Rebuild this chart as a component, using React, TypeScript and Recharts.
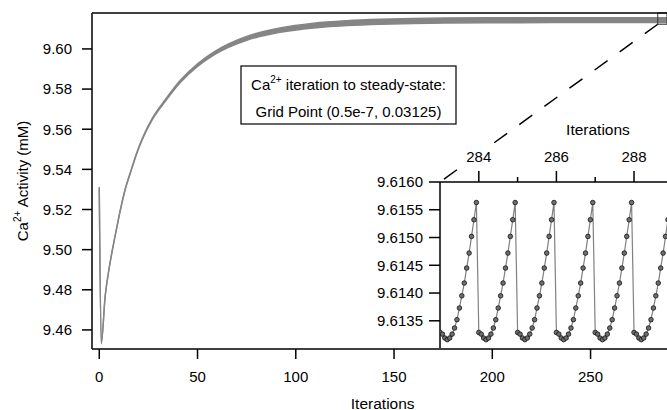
import React from 'react';
import {
  ComposedChart,
  LineChart,
  Line,
  Area,
  XAxis,
  YAxis,
  ReferenceLine,
  ReferenceArea,
} from 'recharts';

// ---- main panel data ----
const mainIterations = [0, 1, 3, 5, 8, 10, 13, 16, 19, 22, 27, 34, 41, 50, 58, 66, 75, 92, 109, 126, 143, 160, 177, 200, 230, 260, 289];
const mainLow = [9.5308, 9.45305, 9.47665, 9.49035, 9.50635, 9.51615, 9.5291, 9.53855, 9.54755, 9.555, 9.56475, 9.57435, 9.58295, 9.59125, 9.59675, 9.60085, 9.60425, 9.60825, 9.61045, 9.6116, 9.6123, 9.6127, 9.6129, 9.61303, 9.6131, 9.6131, 9.6131];
const mainHigh = [9.5312, 9.45345, 9.47705, 9.49075, 9.50675, 9.51655, 9.5296, 9.53915, 9.54815, 9.5557, 9.56555, 9.57535, 9.58415, 9.59265, 9.59835, 9.60265, 9.60625, 9.61045, 9.61285, 9.6141, 9.6148, 9.6152, 9.6154, 9.61553, 9.6156, 9.6156, 9.6156];
const mainXTicks = [0, 50, 100, 150, 200, 250];
const mainYTicks = [9.46, 9.48, 9.5, 9.52, 9.54, 9.56, 9.58, 9.6];

// ---- inset data (one steady-state cycle per iteration) ----
const insetIterations = [283, 284, 285, 286, 287, 288];
const insetSubSteps = [0, 0.0625, 0.125, 0.1875, 0.25, 0.3125, 0.375, 0.4375, 0.5, 0.5625, 0.625, 0.6875, 0.75, 0.8125, 0.875, 0.9375];
const insetCycleValues = [9.61329, 9.61326, 9.61319, 9.61316, 9.61319, 9.61326, 9.61337, 9.61352, 9.61373, 9.61395, 9.61418, 9.61445, 9.61472, 9.61502, 9.61532, 9.61563];
const insetXTicks = [284, 285, 286, 287, 288];
const insetYTicks = [9.6135, 9.614, 9.6145, 9.615, 9.6155, 9.616];

const mainData = mainIterations.map((it, i) => ({ it, band: [mainLow[i], mainHigh[i]] }));
const insetData = insetIterations.flatMap((start) =>
  insetSubSteps.map((s, k) => ({ it: start + s, v: insetCycleValues[k] }))
);

const MAIN_X_DOMAIN: [number, number] = [-3.7, 288.9];
const MAIN_Y_DOMAIN: [number, number] = [9.4505, 9.6179];
const INSET_X_DOMAIN: [number, number] = [283, 288.85];
const INSET_Y_DOMAIN: [number, number] = [9.61301, 9.616];

const FONT = "'Liberation Sans', Arial, Helvetica, sans-serif";
const INSET_TOP = 82;

const InsetTopTick = (props: any) => {
  const { x, payload } = props;
  const major = payload.value % 2 === 0;
  return (
    <g>
      <line x1={x} x2={x} y1={INSET_TOP} y2={INSET_TOP - (major ? 11 : 5)} stroke="#000" strokeWidth={1.5} />
      {major && (
        <g>
          <rect x={x - 14} y={INSET_TOP - 33} width={28} height={14} fill="#fff" />
          <text x={x} y={INSET_TOP - 20.5} textAnchor="middle" fontSize={15} fill="#000" fontFamily={FONT}>
            {payload.value}
          </text>
        </g>
      )}
    </g>
  );
};

export default function App() {
  return (
    <div
      style={{
        position: 'fixed',
        left: 0,
        top: 0,
        width: 667,
        height: 410,
        overflow: 'hidden',
        background: '#fff',
        fontFamily: FONT,
      }}
    >
      <div style={{ position: 'absolute', left: 0, top: 0 }}>
        <ComposedChart width={667} height={410} data={mainData} margin={{ top: 13, right: 0, bottom: 0, left: 0 }}>
          <XAxis
            dataKey="it"
            type="number"
            domain={MAIN_X_DOMAIN}
            allowDataOverflow
            ticks={mainXTicks}
            height={61}
            tickSize={10}
            tickMargin={12}
            tick={{ fontSize: 15, fill: '#000', fontFamily: FONT }}
            axisLine={{ stroke: '#000', strokeWidth: 1.5 }}
            tickLine={{ stroke: '#000', strokeWidth: 1.5 }}
          />
          <YAxis
            type="number"
            domain={MAIN_Y_DOMAIN}
            allowDataOverflow
            ticks={mainYTicks}
            width={92}
            tickSize={10}
            tickMargin={10}
            tickFormatter={(v: number) => v.toFixed(2)}
            tick={{ fontSize: 15, fill: '#000', fontFamily: FONT }}
            axisLine={{ stroke: '#000', strokeWidth: 1.5 }}
            tickLine={{ stroke: '#000', strokeWidth: 1.5 }}
          />
          <ReferenceLine y={MAIN_Y_DOMAIN[1]} stroke="#000" strokeWidth={1.5} />
          <Area
            dataKey="band"
            type="monotone"
            stroke="#858585"
            strokeWidth={1.4}
            fill="#858585"
            fillOpacity={1}
            dot={false}
            activeDot={false}
            isAnimationActive={false}
          />
          <ReferenceArea
            x1={284.2}
            x2={MAIN_X_DOMAIN[1]}
            y1={9.6123}
            y2={MAIN_Y_DOMAIN[1]}
            fill="none"
            stroke="#333"
            strokeWidth={1}
            ifOverflow="visible"
          />
          <ReferenceLine
            segment={[
              { x: 284.2, y: 9.6123 },
              { x: 173.4, y: 9.5337 },
            ]}
            stroke="#000"
            strokeWidth={1.5}
            strokeDasharray="16 15"
            ifOverflow="visible"
          />
        </ComposedChart>
      </div>

      <div style={{ position: 'absolute', left: 340, top: 100 }}>
        <LineChart width={327} height={250} data={insetData} margin={{ top: 0, right: 0, bottom: 2, left: 0 }}>
          <XAxis
            dataKey="it"
            type="number"
            orientation="top"
            domain={INSET_X_DOMAIN}
            allowDataOverflow
            ticks={insetXTicks}
            height={82}
            tickLine={false}
            tick={<InsetTopTick />}
            axisLine={{ stroke: '#000', strokeWidth: 1.5 }}
          />
          <YAxis
            type="number"
            domain={INSET_Y_DOMAIN}
            allowDataOverflow
            ticks={insetYTicks}
            width={100}
            tickSize={11}
            tickMargin={6}
            tickFormatter={(v: number) => v.toFixed(4)}
            tick={{ fontSize: 15, fill: '#000', fontFamily: FONT }}
            axisLine={{ stroke: '#000', strokeWidth: 1.5 }}
            tickLine={{ stroke: '#000', strokeWidth: 1.5 }}
          />
          <Line
            dataKey="v"
            type="linear"
            stroke="#808080"
            strokeWidth={1.2}
            dot={{ r: 2.3, fill: '#6e6e6e', stroke: '#111', strokeWidth: 0.8 }}
            activeDot={false}
            isAnimationActive={false}
          />
        </LineChart>
      </div>

      <svg
        width={667}
        height={410}
        style={{ position: 'absolute', left: 0, top: 0, pointerEvents: 'none' }}
        fontFamily={FONT}
      >
        <text
          x={28}
          y={181}
          textAnchor="middle"
          fontSize={15}
          fill="#000"
          transform="rotate(-90, 28, 181)"
        >
          Ca
          <tspan fontSize={10} dy={-7}>2+</tspan>
          <tspan dy={7}> Activity (mM)</tspan>
        </text>
        <text x={382.7} y={408.5} textAnchor="middle" fontSize={15.5} fill="#000">
          Iterations
        </text>
        <rect x={241} y={66} width={215} height={58} fill="#fff" stroke="#000" strokeWidth={1.2} />
        <text x={348.5} y={90} textAnchor="middle" fontSize={15} fill="#000">
          Ca
          <tspan fontSize={10} dy={-7}>2+</tspan>
          <tspan dy={7}> iteration to steady-state:</tspan>
        </text>
        <text x={348.5} y={116.5} textAnchor="middle" fontSize={15} fill="#000">
          Grid Point (0.5e-7, 0.03125)
        </text>
        <rect x={565} y={122} width={68} height={15} fill="#fff" />
        <text x={598} y={135} textAnchor="middle" fontSize={15.5} fill="#000">
          Iterations
        </text>
      </svg>
    </div>
  );
}
